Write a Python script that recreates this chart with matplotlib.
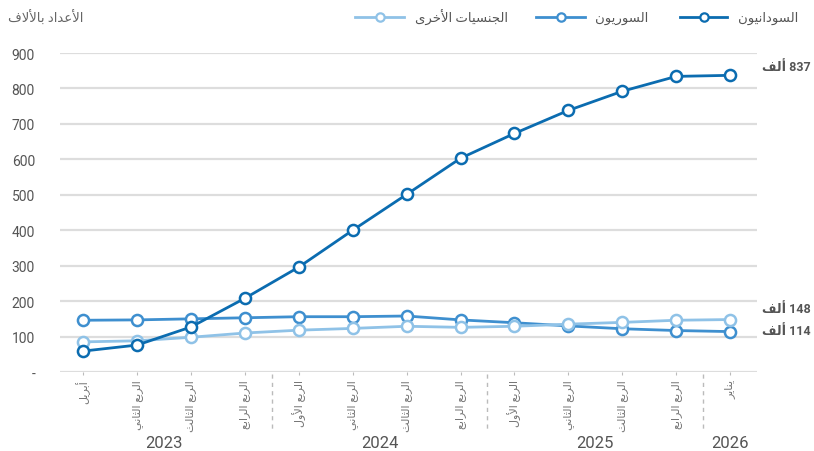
import matplotlib
matplotlib.use("Agg")
import matplotlib.pyplot as plt
from matplotlib.lines import Line2D
from matplotlib.transforms import blended_transform_factory
import numpy as np

# ---------------- data ----------------
x_labels = ["أبريل", "الربع الثاني", "الربع الثالث", "الربع الرابع",
            "الربع الأول", "الربع الثاني", "الربع الثالث", "الربع الرابع",
            "الربع الأول", "الربع الثاني", "الربع الثالث", "الربع الرابع",
            "يناير"]
years = ["2023", "2024", "2025", "2026"]
year_groups = [[0, 1, 2, 3], [4, 5, 6, 7], [8, 9, 10, 11], [12]]
sudanese = [59, 76, 127, 208, 296, 400, 501, 603, 673, 738, 792, 834, 837]
syrians = [146, 147, 150, 153, 156, 156, 158, 147, 139, 130, 122, 117, 114]
others = [85, 88, 98, 110, 118, 123, 129, 126, 129, 135, 140, 146, 148]
series_names = ["السودانيون", "السوريون", "الجنسيات الأخرى"]
unit_label = "ألف"
axis_title = "الأعداد بالألاف"
y_ticks = [0, 100, 200, 300, 400, 500, 600, 700, 800, 900]
y_tick_labels = ["-", "100", "200", "300", "400", "500", "600", "700", "800", "900"]

# ---------------- minimal Arabic shaping ----------------
FORMS = {
    'ا': ('\uFE8D', '\uFE8E', None, None),
    'أ': ('\uFE83', '\uFE84', None, None),
    'ب': ('\uFE8F', '\uFE90', '\uFE91', '\uFE92'),
    'ت': ('\uFE95', '\uFE96', '\uFE97', '\uFE98'),
    'ث': ('\uFE99', '\uFE9A', '\uFE9B', '\uFE9C'),
    'ج': ('\uFE9D', '\uFE9E', '\uFE9F', '\uFEA0'),
    'خ': ('\uFEA5', '\uFEA6', '\uFEA7', '\uFEA8'),
    'د': ('\uFEA9', '\uFEAA', None, None),
    'ر': ('\uFEAD', '\uFEAE', None, None),
    'س': ('\uFEB1', '\uFEB2', '\uFEB3', '\uFEB4'),
    'ع': ('\uFEC9', '\uFECA', '\uFECB', '\uFECC'),
    'ف': ('\uFED1', '\uFED2', '\uFED3', '\uFED4'),
    'ل': ('\uFEDD', '\uFEDE', '\uFEDF', '\uFEE0'),
    'ن': ('\uFEE5', '\uFEE6', '\uFEE7', '\uFEE8'),
    'و': ('\uFEED', '\uFEEE', None, None),
    'ى': ('\uFEEF', '\uFEF0', None, None),
    'ي': ('\uFEF1', '\uFEF2', '\uFEF3', '\uFEF4'),
    'لا': ('\uFEFB', '\uFEFC', None, None),
    'لأ': ('\uFEF7', '\uFEF8', None, None),
}


def shape(text):
    toks = []
    i = 0
    while i < len(text):
        if text[i] == 'ل' and i + 1 < len(text) and text[i + 1] in 'اأ':
            toks.append(text[i:i + 2])
            i += 2
        else:
            toks.append(text[i])
            i += 1
    out = []
    for k, t in enumerate(toks):
        if t not in FORMS:
            out.append(t)
            continue
        f = FORMS[t]
        prev = toks[k - 1] if k > 0 else None
        nxt = toks[k + 1] if k + 1 < len(toks) else None
        jp = prev in FORMS and FORMS[prev][2] is not None
        jn = nxt in FORMS and f[2] is not None
        if jp and jn:
            out.append(f[3])
        elif jp:
            out.append(f[1])
        elif jn:
            out.append(f[2])
        else:
            out.append(f[0])
    return "".join(out)[::-1]


plt.rcParams['font.family'] = ['Roboto', 'DejaVu Sans']

W, H = 814, 452
fig = plt.figure(figsize=(W / 100, H / 100), dpi=100)
ax = fig.add_axes([60 / W, (H - 373) / H, (757 - 60) / W, (373 - 54) / H])

c_sud = '#0b6cb0'
c_syr = '#3e8fcf'
c_oth = '#8fc2e7'

x = np.arange(len(x_labels))
common = dict(marker='o', markersize=8, markerfacecolor='white', markeredgewidth=1.8,
              linewidth=2, clip_on=False)
ax.plot(x, syrians, color=c_syr, zorder=3, **common)
ax.plot(x, others, color=c_oth, zorder=4, **common)
ax.plot(x, sudanese, color=c_sud, zorder=5, **common)

ax.set_xlim(-0.43, 12.5)
ax.set_ylim(0, 900)
for s in ax.spines.values():
    s.set_visible(False)
ax.set_yticks(y_ticks)
ax.set_yticklabels(y_tick_labels, fontsize=10, color='#555555')
ax.tick_params(axis='y', length=0, pad=18)
ax.grid(axis='y', color='#dddddd', linewidth=1.6)
ax.set_axisbelow(True)

ax.set_xticks(x)
ax.set_xticklabels([shape(t) for t in x_labels], rotation=90, fontsize=8,
                   color='#777777', va='top', ha='center')
ax.tick_params(axis='x', length=2, color='#bbbbbb', pad=3)

tr = blended_transform_factory(ax.transData, ax.transAxes)
for yr, grp in zip(years, year_groups):
    ax.text(np.mean(grp), -0.222, yr, transform=tr, ha='center', va='center',
            fontsize=12, color='#555555')
for k in range(len(year_groups) - 1):
    xs = (year_groups[k][-1] + year_groups[k + 1][0]) / 2
    ax.plot([xs, xs], [-0.006, -0.185], transform=tr, color='#bbbbbb', lw=1,
            dashes=(3, 3), clip_on=False)

# end labels
end_offsets = [6, 8, 1]
for vals, off in zip([sudanese, others, syrians], end_offsets):
    ax.annotate(shape(unit_label) + " " + str(vals[-1]), xy=(x[-1], vals[-1]),
                xytext=(23, off), textcoords='offset points', ha='left',
                va='center', fontsize=9, fontweight='bold', color='#555555',
                annotation_clip=False)

# legend (manual)
ly = 1 - 18 / H
leg = [(series_names[0], c_sud, 680, 727, 738),
       (series_names[1], c_syr, 536, 585, 595),
       (series_names[2], c_oth, 355, 404, 415)]
for name, col, x0, x1, tx in leg:
    fig.add_artist(Line2D([x0 / W, x1 / W], [ly, ly], color=col, lw=2,
                          transform=fig.transFigure))
    fig.add_artist(Line2D([(x0 + x1) / 2 / W], [ly], color=col, marker='o',
                          markersize=6, markerfacecolor='white',
                          markeredgewidth=1.6, transform=fig.transFigure))
    fig.text(tx / W, ly, shape(name), ha='left', va='center', fontsize=9.5,
             color='#555555')

fig.text(8 / W, ly, shape(axis_title), ha='left', va='center', fontsize=9.5,
         color='#666666')

fig.savefig('out.png', dpi=100)
